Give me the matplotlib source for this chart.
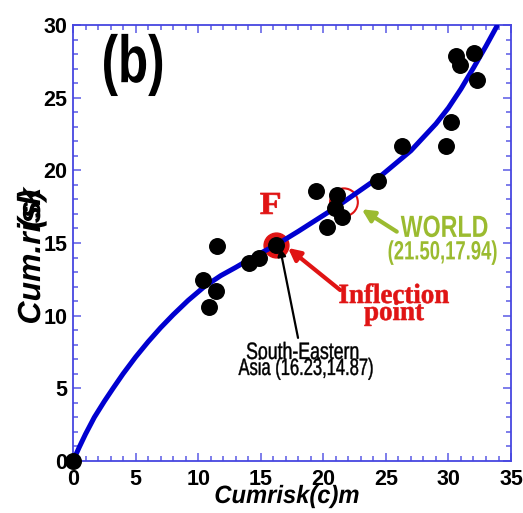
#!/usr/bin/env python3
"""
Cumulative risk vs. cumulative risk(c) scatter with fitted curve, panel (b).
Saves out.png (523 x 513 px).
"""

import matplotlib
matplotlib.use("Agg")
import matplotlib.pyplot as plt
import matplotlib.transforms as mtransforms
from matplotlib.textpath import TextPath
from matplotlib.patches import PathPatch
from matplotlib.font_manager import FontProperties
from matplotlib.ticker import MultipleLocator

# ─── data ─────────────────────────────────────────────────────────────────────
point_x = [0.0, 11.53, 10.37, 11.43, 10.90, 14.09, 14.89, 16.23,
           19.39, 21.07, 20.94, 21.47, 20.33, 24.35, 26.32,
           29.78, 30.21, 30.58, 30.93, 32.04, 32.31]
point_y = [0.0, 14.82, 12.46, 11.70, 10.62, 13.60, 13.99, 14.87,
           18.60, 18.31, 17.39, 16.81, 16.13, 19.29, 21.70,
           21.70, 23.31, 27.87, 27.25, 28.10, 26.22]

curve_x = [0, 0.5, 1, 1.7, 2.5, 3.2, 4, 5, 6, 7, 8, 9.2, 10.5, 11.8, 13, 14.6,
           16.23, 18, 21, 24.5, 27, 29, 30, 31, 32, 33, 33.86]
curve_y = [0, 0.95, 1.85, 3.0, 4.1, 5.0, 6.0, 7.15, 8.2, 9.17, 10.06, 11.05,
           12.0, 12.75, 13.32, 14.12, 14.87, 15.8, 17.45, 19.55,
           21.35, 23.2, 24.3, 25.6, 27.05, 28.55, 29.9]

inflection = (16.23, 14.87)     # South-Eastern Asia
world = (21.65, 17.8)           # circle drawn around WORLD

x_ticks = [0, 5, 10, 15, 20, 25, 30, 35]
y_ticks = [0, 5, 10, 15, 20, 25, 30]

# ─── colours ──────────────────────────────────────────────────────────────────
BLUE_LINE = "#0000d0"
AXIS_BLUE = "#4646e0"
RED = "#e01414"
GREEN = "#9bbb30"

plt.rcParams["font.family"] = ["Liberation Sans", "DejaVu Sans"]


def squeezed(ax, x, y, s, size, color, squeeze=1.0, trans=None,
             family="Liberation Sans", weight="bold", style="normal",
             ha="center", va="baseline", rotation=0, stroke=0.0):
    """Draw text as a path so it can be compressed horizontally."""
    fp = FontProperties(family=family, weight=weight, style=style)
    tp = TextPath((0, 0), s, size=size, prop=fp)
    ext = tp.get_extents()
    dx = {"left": -ext.x0, "center": -(ext.x0 + ext.x1) / 2, "right": -ext.x1}[ha]
    dy = {"baseline": 0, "center": -(ext.y0 + ext.y1) / 2,
          "bottom": -ext.y0, "top": -ext.y1}[va]
    if trans is None:
        trans = ax.transData
    tr = (mtransforms.Affine2D().translate(dx, dy).scale(squeeze / 72, 1 / 72)
          .rotate_deg(rotation)
          + ax.figure.dpi_scale_trans
          + mtransforms.ScaledTranslation(x, y, trans))
    ax.add_patch(PathPatch(tp, transform=tr, facecolor=color,
                           edgecolor=color if stroke else "none",
                           linewidth=stroke, clip_on=False, zorder=6))


fig = plt.figure(figsize=(5.23, 5.13), dpi=100)
ax = fig.add_axes([0.1396, 0.1014, 0.8375, 0.8499])

ax.set_xlim(0, 35)
ax.set_ylim(0, 30)

# red markers under the curve
ax.scatter([inflection[0]], [inflection[1]], s=320, color=RED, zorder=2)
ax.scatter([world[0]], [world[1]], s=400, facecolor="none", edgecolor=RED,
           linewidth=1.5, zorder=2)

ax.plot(curve_x, curve_y, color=BLUE_LINE, linewidth=3.6,
        solid_capstyle="round", solid_joinstyle="round", zorder=3)
ax.scatter(point_x, point_y, s=125, color="black", zorder=4, clip_on=False)

# ─── axes styling ─────────────────────────────────────────────────────────────
ax.set_xticks(x_ticks)
ax.set_yticks(y_ticks)
ax.xaxis.set_minor_locator(MultipleLocator(1))
ax.yaxis.set_minor_locator(MultipleLocator(1))
ax.tick_params(which="both", direction="in", top=True, right=True,
               color="#5a5ae6", width=1.1)
ax.tick_params(which="major", length=6)
ax.tick_params(which="minor", length=3.5)
ax.tick_params(axis="x", which="major", pad=6)
ax.tick_params(axis="y", which="major", pad=4)
for lab in ax.get_xticklabels() + ax.get_yticklabels():
    lab.set_fontsize(15.5)
    lab.set_fontweight("bold")
for spine in ax.spines.values():
    spine.set_edgecolor(AXIS_BLUE)
    spine.set_linewidth(1.3)

# axis labels (overlapping text as in the source)
squeezed(ax, 0.4886, -0.0963, "Cumrisk(c)m", 18, "black", squeeze=0.95,
         trans=ax.transAxes, style="italic")
squeezed(ax, -0.0753, 0.3165, "Cum.risk", 23, "black", trans=ax.transAxes,
         style="italic", ha="left", rotation=90)
squeezed(ax, -0.0753, 0.535, "(s)", 23, "black", trans=ax.transAxes,
         style="italic", ha="left", rotation=90)

# panel tag
squeezed(ax, 4.8, 27.25, "(b)", 48, "black", squeeze=0.74, va="center")

# ─── annotations ──────────────────────────────────────────────────────────────
squeezed(ax, 15.75, 17.0, "F", 23, RED, squeeze=1.12,
         family="Liberation Serif", stroke=0.5)
squeezed(ax, 25.66, 10.87, "Inflection", 20, RED, squeeze=0.97,
         family="Liberation Serif", stroke=0.4)
squeezed(ax, 25.66, 9.70, "point", 20, RED, squeeze=0.97,
         family="Liberation Serif", stroke=0.4)
ax.annotate("", xy=(17.18, 14.66), xytext=(21.35, 11.76),
            arrowprops=dict(arrowstyle="-|>", color=RED, lw=3,
                            mutation_scale=18, shrinkA=0, shrinkB=0),
            zorder=5)

squeezed(ax, 29.65, 15.42, "WORLD", 22, GREEN, squeeze=0.76)
squeezed(ax, 29.53, 13.87, "(21.50,17.94)", 19, GREEN, squeeze=0.7)
ax.annotate("", xy=(23.07, 17.32), xytext=(25.87, 15.78),
            arrowprops=dict(arrowstyle="-|>", color=GREEN, lw=3,
                            mutation_scale=18, shrinkA=0, shrinkB=0),
            zorder=5)

squeezed(ax, 18.34, 7.02, "South-Eastern", 17, "black", squeeze=0.75,
         weight="normal", stroke=0.3)
squeezed(ax, 18.58, 5.92, "Asia (16.23,14.87)", 17, "black", squeeze=0.7,
         weight="normal", stroke=0.3)
ax.annotate("", xy=(16.54, 14.66), xytext=(17.98, 8.47),
            arrowprops=dict(arrowstyle="-|>", color="black", lw=1.6,
                            mutation_scale=12, shrinkA=0, shrinkB=0),
            zorder=5)

fig.savefig("out.png", dpi=100)
plt.close(fig)
